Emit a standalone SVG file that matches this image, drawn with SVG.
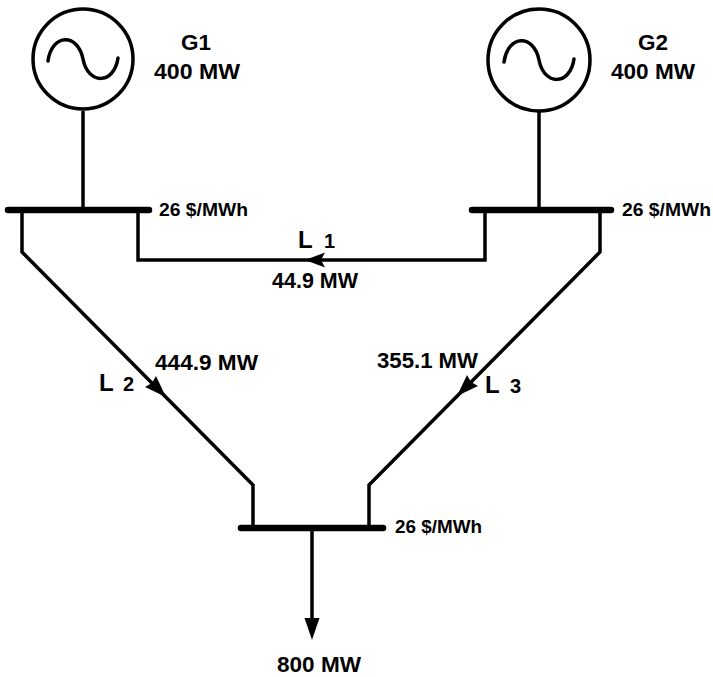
<svg xmlns="http://www.w3.org/2000/svg" width="713" height="677" viewBox="0 0 713 677">
<style>
.ln{fill:none;stroke:#000;stroke-width:3.5;stroke-linejoin:miter}
.bus{stroke:#000;stroke-width:6.5;stroke-linecap:round}
.gen{fill:#fff;stroke:#000;stroke-width:3.5}
.sine{fill:none;stroke:#000;stroke-width:3.5;stroke-linecap:round}
.ah{fill:#000;stroke:none}
text{font-family:"Liberation Sans",Arial,sans-serif;font-weight:bold;fill:#000}
.big{font-size:22.5px}
.sm{font-size:18px}
.dg{font-size:20px}
.L{font-size:24px}
</style>
<rect width="713" height="677" fill="#fff"/>
<g id="connectors">
<path class="ln" d="M83,111 V210"/>
<path class="ln" d="M539,112 V210"/>
<path class="ln" d="M22,210 V252 L253,485 V528"/>
<path class="ln" d="M138,210 V260 H485 V210"/>
<path class="ln" d="M600,210 V252 L369,485 V528"/>
<path class="ln" d="M312,528 V624"/>
<polygon class="ah" points="304.5,618 319.5,618 312,640"/>
<polygon class="ah" points="305,260 325,252.5 321,260 325,267.5"/>
<polygon class="ah" points="166,397 156,376 152,383 145,387"/>
<polygon class="ah" points="457,396 467,375 471,382 478,386"/>
</g>
<g id="G1">
<circle class="gen" cx="83" cy="59" r="50"/>
<path class="sine" d="M48,61 C52,33 78,33 83,59 C88,85 114,85 118,58"/>
<text class="big" x="196" y="50" text-anchor="middle">G1</text>
<text class="big" x="154" y="79" textLength="86" lengthAdjust="spacingAndGlyphs">400 MW</text>
</g>
<g id="G2">
<circle class="gen" cx="539" cy="60" r="51"/>
<path class="sine" d="M504,62 C508,34 534,34 539,60 C544,86 570,86 574,59"/>
<text class="big" x="653" y="50" text-anchor="middle">G2</text>
<text class="big" x="611" y="79" textLength="84" lengthAdjust="spacingAndGlyphs">400 MW</text>
</g>
<g id="bus1">
<line class="bus" x1="8" y1="210" x2="149" y2="210"/>
<text class="sm" x="159" y="216" textLength="89" lengthAdjust="spacingAndGlyphs">26 $/MWh</text>
</g>
<g id="bus2">
<line class="bus" x1="472" y1="210" x2="611" y2="210"/>
<text class="sm" x="622" y="216" textLength="89" lengthAdjust="spacingAndGlyphs">26 $/MWh</text>
</g>
<g id="bus3">
<line class="bus" x1="241" y1="528" x2="383" y2="528"/>
<text class="sm" x="395" y="533" textLength="87" lengthAdjust="spacingAndGlyphs">26 $/MWh</text>
</g>
<g id="line1">
<text class="L" x="298" y="248">L</text>
<text class="dg" x="324" y="248">1</text>
<text class="big" x="272" y="288" textLength="86" lengthAdjust="spacingAndGlyphs">44.9 MW</text>
</g>
<g id="line2">
<text class="L" x="99" y="391">L</text>
<text class="dg" x="123" y="391">2</text>
<text class="big" x="155" y="370" textLength="103" lengthAdjust="spacingAndGlyphs">444.9 MW</text>
</g>
<g id="line3">
<text class="L" x="485" y="393">L</text>
<text class="dg" x="510" y="393">3</text>
<text class="big" x="377" y="368" textLength="101" lengthAdjust="spacingAndGlyphs">355.1 MW</text>
</g>
<g id="load">
<text class="big" x="277" y="672" textLength="84" lengthAdjust="spacingAndGlyphs">800 MW</text>
</g>
</svg>
